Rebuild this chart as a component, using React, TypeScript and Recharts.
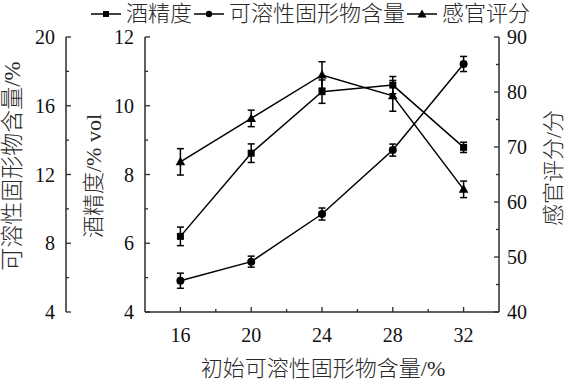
import React from 'react';
import { ComposedChart, Line, XAxis, YAxis, ErrorBar, Legend } from 'recharts';

// initial soluble solids (%)
const xValues = [16, 20, 24, 28, 32];
// alcohol content (% vol), left inner axis
const alcohol = [6.2, 8.62, 10.41, 10.6, 8.79];
const alcoholErr = [0.27, 0.27, 0.34, 0.25, 0.15];
// residual soluble solids (%), left outer axis
const solids = [5.82, 6.93, 9.7, 13.42, 18.43];
const solidsErr = [0.44, 0.32, 0.35, 0.35, 0.44];
// sensory score, right axis
const sensory = [67.3, 75.2, 83.1, 79.3, 62.3];
const sensoryErr = [2.4, 1.5, 2.4, 2.8, 1.5];

const xTicks = [16, 18, 20, 22, 24, 26, 28, 30, 32];
const xLabeled = [16, 20, 24, 28, 32];
const solidsTicks = [4, 6, 8, 10, 12, 14, 16, 18, 20];
const solidsLabeled = [4, 8, 12, 16, 20];
const alcoholTicks = [4, 5, 6, 7, 8, 9, 10, 11, 12];
const alcoholLabeled = [4, 6, 8, 10, 12];
const sensoryTicks = [40, 45, 50, 55, 60, 65, 70, 75, 80, 85, 90];
const sensoryLabeled = [40, 50, 60, 70, 80, 90];

const data = xValues.map((x, i) => ({
  x,
  alcohol: alcohol[i],
  alcoholErr: alcoholErr[i],
  solids: solids[i],
  solidsErr: solidsErr[i],
  sensory: sensory[i],
  sensoryErr: sensoryErr[i],
}));

const AXIS = '#2b2b2b';
const INK = '#111';
const CJK_INK = '#2a2a2a';
const NUM_FONT = '"Liberation Serif", "Times New Roman", serif';
const CJK_FONT = '"Liberation Serif", "Noto Sans CJK SC", serif';

const makeLeftTick = (labeled: number[]) => (props: any) => {
  const { x, y, payload } = props;
  const major = labeled.includes(payload.value);
  return (
    <g>
      <line x1={x} x2={x + (major ? 5 : 3)} y1={y} y2={y} stroke={AXIS} strokeWidth={1.3} />
      {major && (
        <text x={x - 11} y={y} dy="0.35em" textAnchor="end" fontSize={20} fontFamily={NUM_FONT} fill={INK}>
          {payload.value}
        </text>
      )}
    </g>
  );
};

const RightTick = (props: any) => {
  const { x, y, payload } = props;
  const major = sensoryLabeled.includes(payload.value);
  return (
    <g>
      <line x1={x} x2={x - (major ? 5 : 3)} y1={y} y2={y} stroke={AXIS} strokeWidth={1.3} />
      {major && (
        <text x={x + 8} y={y} dy="0.35em" textAnchor="start" fontSize={20} fontFamily={NUM_FONT} fill={INK}>
          {payload.value}
        </text>
      )}
    </g>
  );
};

const BottomTick = (props: any) => {
  const { x, y, payload } = props;
  const major = xLabeled.includes(payload.value);
  return (
    <g>
      <line x1={x} x2={x} y1={y} y2={y - (major ? 5 : 3)} stroke={AXIS} strokeWidth={1.3} />
      {major && (
        <text x={x} y={y + 30} textAnchor="middle" fontSize={20} fontFamily={NUM_FONT} fill={INK}>
          {payload.value}
        </text>
      )}
    </g>
  );
};

// rotated axis title centred on (cx, cy)
const vTitle = (text: string, cx: number, cy: number, size = 22) => () => (
  <text
    transform={`translate(${cx},${cy}) rotate(-90)`}
    textAnchor="middle"
    dominantBaseline="central"
    fontSize={size}
    fontFamily={CJK_FONT}
    fontWeight={300}
    fill={CJK_INK}
  >
    {text}
  </text>
);

const xTitle = () => (
  <text
    x={323}
    y={368}
    textAnchor="middle"
    dominantBaseline="central"
    fontSize={22}
    fontFamily={CJK_FONT}
    fontWeight={300}
    fill={CJK_INK}
  >
    初始可溶性固形物含量/%
  </text>
);

const SquareDot = (p: any) => (
  <rect key={p.key} x={p.cx - 3.5} y={p.cy - 3.5} width={7} height={7} fill="#000" />
);
const CircleDot = (p: any) => <circle key={p.key} cx={p.cx} cy={p.cy} r={4} fill="#000" />;
const TriangleDot = (p: any) => (
  <path key={p.key} d={`M${p.cx},${p.cy - 5} L${p.cx + 4.8},${p.cy + 3.5} L${p.cx - 4.8},${p.cy + 3.5} Z`} fill="#000" />
);

const legendItems = [
  { name: '酒精度', marker: 'square' },
  { name: '可溶性固形物含量', marker: 'circle' },
  { name: '感官评分', marker: 'triangle' },
];

const LegendContent = () => (
  <div
    style={{
      display: 'flex',
      alignItems: 'center',
      fontFamily: CJK_FONT,
      fontSize: 22,
      fontWeight: 300,
      color: CJK_INK,
      lineHeight: '26px',
    }}
  >
    {legendItems.map((it) => (
      <div key={it.name} style={{ display: 'flex', alignItems: 'center' }}>
        <svg width={34} height={14} style={{ marginRight: 3 }}>
          <line x1={2} x2={32} y1={7} y2={7} stroke="#000" strokeWidth={1.5} />
          {it.marker === 'square' && <rect x={14} y={4} width={6} height={6} fill="#000" />}
          {it.marker === 'circle' && <circle cx={17} cy={7} r={3.2} fill="#000" />}
          {it.marker === 'triangle' && <path d="M17,2.5 L21.5,10.5 L12.5,10.5 Z" fill="#000" />}
        </svg>
        <span>{it.name}</span>
      </div>
    ))}
  </div>
);

export default function App() {
  return (
    <div style={{ position: 'absolute', left: 0, top: 0, width: 566, height: 383, background: '#fff' }}>
      <ComposedChart width={566} height={383} data={data} margin={{ top: 37, right: 0, bottom: 0, left: 0 }}>
        <Legend
          layout="horizontal"
          verticalAlign="middle"
          content={LegendContent}
          wrapperStyle={{ top: 1, left: 89, width: 'auto' }}
        />
        <XAxis
          type="number"
          dataKey="x"
          domain={[14, 34]}
          ticks={xTicks}
          interval={0}
          height={71}
          tickSize={0}
          tickMargin={0}
          tickLine={false}
          tick={BottomTick}
          axisLine={{ stroke: AXIS, strokeWidth: 1.5 }}
          label={{ content: xTitle }}
        />
        <YAxis
          yAxisId="alc"
          orientation="left"
          domain={[4, 12]}
          ticks={alcoholTicks}
          interval={0}
          width={79}
          tickSize={0}
          tickMargin={0}
          tickLine={false}
          tick={makeLeftTick(alcoholLabeled)}
          axisLine={{ stroke: AXIS, strokeWidth: 1.5 }}
          label={{ content: vTitle('酒精度/% vol', 93, 176) }}
        />
        <YAxis
          yAxisId="sol"
          orientation="left"
          domain={[4, 20]}
          ticks={solidsTicks}
          interval={0}
          width={66}
          tickSize={0}
          tickMargin={0}
          tickLine={false}
          tick={makeLeftTick(solidsLabeled)}
          axisLine={{ stroke: AXIS, strokeWidth: 1.5 }}
          label={{ content: vTitle('可溶性固形物含量/%', 12, 166, 23) }}
        />
        <YAxis
          yAxisId="sen"
          orientation="right"
          domain={[40, 90]}
          ticks={sensoryTicks}
          interval={0}
          width={67}
          tickSize={0}
          tickMargin={0}
          tickLine={false}
          tick={RightTick}
          axisLine={{ stroke: AXIS, strokeWidth: 1.5 }}
          label={{ content: vTitle('感官评分/分', 553, 168) }}
        />
        <Line
          yAxisId="alc"
          dataKey="alcohol"
          name="酒精度"
          type="linear"
          stroke="#000"
          strokeWidth={1.5}
          dot={SquareDot}
          activeDot={false}
          isAnimationActive={false}
        >
          <ErrorBar dataKey="alcoholErr" direction="y" width={3.5} stroke="#000" strokeWidth={1.5} isAnimationActive={false} />
        </Line>
        <Line
          yAxisId="sol"
          dataKey="solids"
          name="可溶性固形物含量"
          type="linear"
          stroke="#000"
          strokeWidth={1.5}
          dot={CircleDot}
          activeDot={false}
          isAnimationActive={false}
        >
          <ErrorBar dataKey="solidsErr" direction="y" width={3.5} stroke="#000" strokeWidth={1.5} isAnimationActive={false} />
        </Line>
        <Line
          yAxisId="sen"
          dataKey="sensory"
          name="感官评分"
          type="linear"
          stroke="#000"
          strokeWidth={1.5}
          dot={TriangleDot}
          activeDot={false}
          isAnimationActive={false}
        >
          <ErrorBar dataKey="sensoryErr" direction="y" width={3.5} stroke="#000" strokeWidth={1.5} isAnimationActive={false} />
        </Line>
      </ComposedChart>
    </div>
  );
}
